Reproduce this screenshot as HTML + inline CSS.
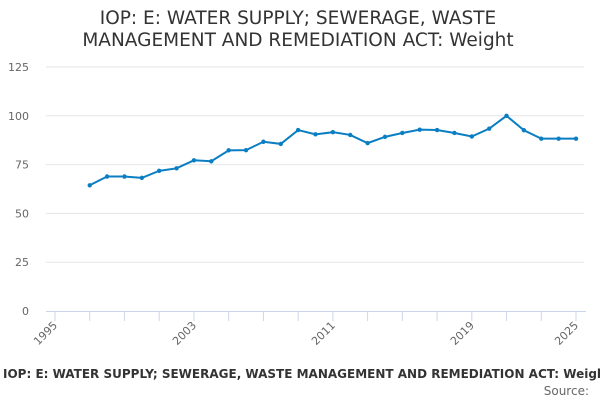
<!DOCTYPE html>
<html><head><meta charset="utf-8"><style>
body{margin:0;background:#fff;width:600px;height:400px;overflow:hidden;font-family:"DejaVu Sans","Liberation Sans",sans-serif}
</style></head><body>
<svg width="600" height="400" id="c">
<text x="298" y="24" text-anchor="middle" font-size="18.5" fill="#333">IOP: E: WATER SUPPLY; SEWERAGE, WASTE</text>
<text x="298" y="46" text-anchor="middle" font-size="18.5" fill="#333">MANAGEMENT AND REMEDIATION ACT: Weight</text>
<text x="3" y="378" font-size="12" font-weight="bold" fill="#333">IOP: E: WATER SUPPLY; SEWERAGE, WASTE MANAGEMENT AND REMEDIATION ACT: Weight</text>
<text x="589" y="395" text-anchor="end" font-size="12" fill="#666">Source:</text>
</svg>
<script>
const years=[1997,1998,1999,2000,2001,2002,2003,2004,2005,2006,2007,2008,2009,2010,2011,2012,2013,2014,2015,2016,2017,2018,2019,2020,2021,2022,2023,2024,2025];
const values=[64.4,68.9,68.9,68.2,71.8,73.1,77.2,76.7,82.3,82.4,86.7,85.6,92.7,90.5,91.6,90.2,86.0,89.2,91.2,92.9,92.7,91.2,89.4,93.4,100,92.6,88.3,88.3,88.3];
const yTicks=[0,25,50,75,100,125];
const xLabels=[1995,2003,2011,2019,2025];
const svg=document.getElementById('c'),NS='http://www.w3.org/2000/svg';
const X=y=>55+(y-1995)*(576-55)/30, Y=v=>311-v*(311-67)/125;
function mk(t,a){const e=document.createElementNS(NS,t);for(const k in a)e.setAttribute(k,a[k]);svg.appendChild(e);return e;}
yTicks.forEach(v=>{
 if(v>0){const g=mk('line',{x1:46,x2:584,y1:Y(v),y2:Y(v),stroke:'#e6e6e6'});
 
 }
 const t=mk('text',{x:29,y:Y(v)+4,'text-anchor':'end','font-size':11,fill:'#666'});t.textContent=v;
 
 
});
const ax=mk('line',{x1:46,x2:586,y1:311.5,y2:311.5,stroke:'#ccd6eb'});


for(let y=1995;y<=2025;y+=2){const t=mk('line',{x1:X(y),x2:X(y),y1:311,y2:321,stroke:'#ccd6eb'});
 
 }
xLabels.forEach(y=>{const t=mk('text',{x:X(y)+3,y:326,'text-anchor':'end','font-size':11,fill:'#666',transform:`rotate(-45 ${X(y)+3} 326)`});t.textContent=y;
 
 });
const p=mk('polyline',{points:years.map((y,i)=>X(y)+','+Y(values[i])).join(' '),fill:'none',stroke:'#0a7ec2','stroke-width':2});


years.forEach((y,i)=>{const c=mk('circle',{cx:X(y),cy:Y(values[i]),r:2.2,fill:'#0a7ec2'});
 
 });
</script>
</body></html>
